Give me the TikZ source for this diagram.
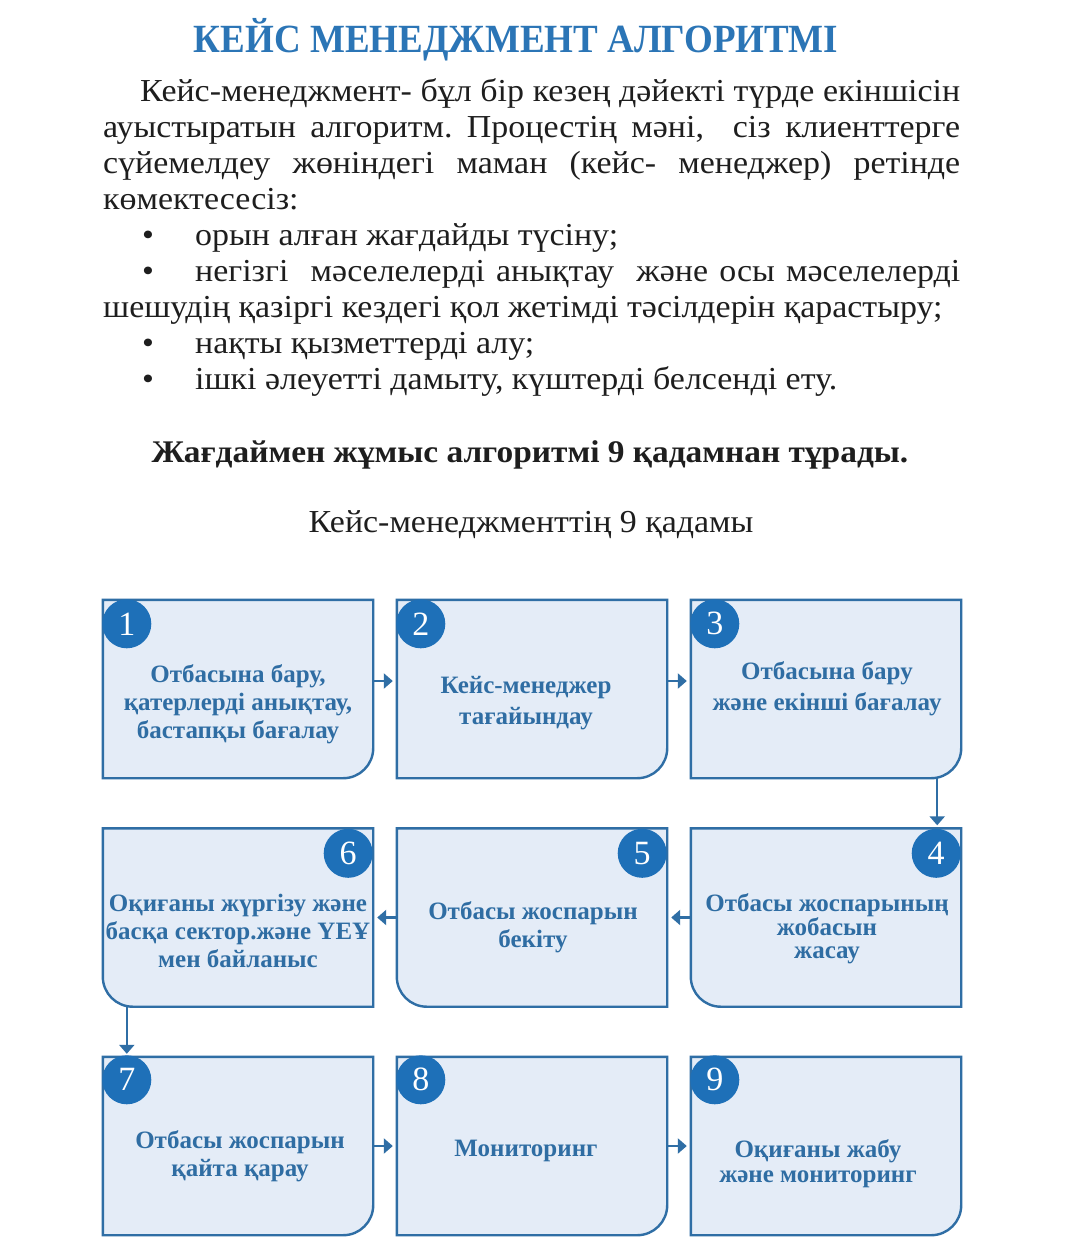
\documentclass[tikz,border=0pt]{standalone}
\usepackage{fontspec}
\setmainfont{Liberation Serif}
\newfontfamily\condfont[FakeStretch=0.925]{Liberation Serif}
\newfontfamily\widefont[FakeStretch=1.06]{Liberation Serif}
\usetikzlibrary{arrows.meta}
\definecolor{boxfill}{HTML}{E4ECF7}
\definecolor{boxline}{HTML}{2F6EA5}
\definecolor{numfill}{HTML}{1E70B8}
\definecolor{boxtext}{HTML}{2F6DA3}
\definecolor{titleblue}{HTML}{2B75B6}
\definecolor{bodytext}{HTML}{1E1E1E}
\frenchspacing
\newcommand\jline[2]{\hbox to #1{\spaceskip=.25em plus 1fil\relax #2}}
\newcommand\brbox[1]{\draw[shapeline] (#1.north west) -- (#1.north east) -- ([yshift=30pt]#1.south east) arc[start angle=0,end angle=-90,radius=30pt] -- (#1.south west) -- cycle;}
\newcommand\blbox[1]{\draw[shapeline] (#1.north west) -- (#1.north east) -- (#1.south east) -- ([xshift=30pt]#1.south west) arc[start angle=270,end angle=180,radius=30pt] -- cycle;}
\begin{document}
\begin{tikzpicture}[x=1pt,y=-1pt,
  box/.style={minimum width=270pt, minimum height=178pt, inner sep=0pt, draw=none},
  shapeline/.style={fill=boxfill, draw=boxline, line width=2.4pt},
  num/.style={circle, fill=numfill, minimum size=49pt, inner sep=0pt, text=white, font=\fontsize{34}{34}\selectfont},
  btext/.style={align=center, text=boxtext, inner sep=0pt, font=\bfseries\fontsize{25}{28}\selectfont},
  flow/.style={draw=boxline, line width=2.4pt, -{Triangle[length=9pt,width=15pt]}},
  body/.style={anchor=base west, inner sep=0pt, text=bodytext, font=\widefont\fontsize{32}{36}\selectfont},
  ctext/.style={anchor=base, inner sep=0pt, text=bodytext, font=\widefont\fontsize{32}{36}\selectfont}
]
\useasboundingbox (0,0) rectangle (1080,1259);
\fill[white] (0,0) rectangle (1080,1259);

\node[anchor=base, inner sep=0pt, text=titleblue, font=\condfont\bfseries\fontsize{40}{40}\selectfont] (title) at (516,52) {КЕЙС МЕНЕДЖМЕНТ АЛГОРИТМІ};

\node[body] (p1) at (140,101) {\jline{820pt}{Кейс-менеджмент- бұл бір кезең дәйекті түрде екіншісін}};
\node[body] (p2) at (103,137) {\jline{857pt}{ауыстыратын алгоритм. Процестің мәні,\ \ сіз клиенттерге}};
\node[body] (p3) at (103,173) {\jline{857pt}{сүйемелдеу жөніндегі маман (кейс- менеджер) ретінде}};
\node[body] (p4) at (103,209) {көмектесесіз:};
\node[body] (d1) at (142,245) {•};
\node[body] (p5) at (195,245) {орын алған жағдайды түсіну;};
\node[body] (d2) at (142,281) {•};
\node[body] (p6) at (195,281) {\jline{765pt}{негізгі\ \ мәселелерді анықтау\ \ және осы мәселелерді}};
\node[body] (p7) at (103,317) {шешудің қазіргі кездегі қол жетімді тәсілдерін қарастыру;};
\node[body] (d3) at (142,353) {•};
\node[body] (p8) at (195,353) {нақты қызметтерді алу;};
\node[body] (d4) at (142,389) {•};
\node[body] (p9) at (195,389) {ішкі әлеуетті дамыту, күштерді белсенді ету.};

\node[ctext, font=\widefont\bfseries\fontsize{31.5}{36}\selectfont] (bold) at (530,462) {Жағдаймен жұмыс алгоритмі 9 қадамнан тұрады.};
\node[ctext] (sub) at (531,532) {Кейс-менеджменттің 9 қадамы};

% boxes
\node[box] (b1) at (238,689) {};
\node[box] (b2) at (532,689) {};
\node[box] (b3) at (826,689) {};
\node[box] (b6) at (238,917.5) {};
\node[box] (b5) at (532,917.5) {};
\node[box] (b4) at (826,917.5) {};
\node[box] (b7) at (238,1146) {};
\node[box] (b8) at (532,1146) {};
\node[box] (b9) at (826,1146) {};
\brbox{b1}\brbox{b2}\brbox{b3}
\blbox{b4}\blbox{b5}\blbox{b6}
\brbox{b7}\brbox{b8}\brbox{b9}

% numbers
\node[num] (n1) at ([xshift=24pt,yshift=-24pt]b1.north west) {1};
\node[num] (n2) at ([xshift=24pt,yshift=-24pt]b2.north west) {2};
\node[num] (n3) at ([xshift=24pt,yshift=-24pt]b3.north west) {3};
\node[num] (n4) at ([xshift=-25pt,yshift=-25pt]b4.north east) {4};
\node[num] (n5) at ([xshift=-25pt,yshift=-25pt]b5.north east) {5};
\node[num] (n6) at ([xshift=-25pt,yshift=-25pt]b6.north east) {6};
\node[num] (n7) at ([xshift=24pt,yshift=-23pt]b7.north west) {7};
\node[num] (n8) at ([xshift=24pt,yshift=-23pt]b8.north west) {8};
\node[num] (n9) at ([xshift=24pt,yshift=-23pt]b9.north west) {9};

% texts
\node[btext] (t1) at (238,704) {Отбасына бару,\\қатерлерді анықтау,\\бастапқы бағалау};
\node[btext, font=\bfseries\fontsize{25}{31}\selectfont] (t2) at (526,703) {Кейс-менеджер\\тағайындау};
\node[btext, font=\bfseries\fontsize{25}{31}\selectfont] (t3) at (827,689) {Отбасына бару\\және екінші бағалау};
\node[btext, font=\bfseries\fontsize{25}{23}\selectfont] (t4) at (827,929) {Отбасы жоспарының\\жобасын\\жасау};
\node[btext] (t5) at (533,927) {Отбасы жоспарын\\бекіту};
\node[btext] (t6) at (238,931) {Оқиғаны жүргізу және\\басқа сектор.және ҮЕҰ\\мен байланыс};
\node[btext] (t7) at (240,1156) {Отбасы жоспарын\\қайта қарау};
\node[btext] (t8) at (526,1151) {Мониторинг};
\node[btext, font=\bfseries\fontsize{25}{25}\selectfont] (t9) at (818,1164) {Оқиғаны жабу\\және мониторинг};

% connectors
\draw[flow] ([yshift=8pt]b1.east) -- ([xshift=-4pt,yshift=8pt]b2.west);
\draw[flow] ([yshift=8pt]b2.east) -- ([xshift=-4pt,yshift=8pt]b3.west);
\draw[flow] ([xshift=-24pt]b3.south east) -- ([xshift=-24pt,yshift=3pt]b4.north east);
\draw[flow] (b4.west) -- ([xshift=4pt]b5.east);
\draw[flow] (b5.west) -- ([xshift=4pt]b6.east);
\draw[flow] ([xshift=24pt]b6.south west) -- ([xshift=24pt,yshift=3pt]b7.north west);
\draw[flow] (b7.east) -- ([xshift=-4pt]b8.west);
\draw[flow] (b8.east) -- ([xshift=-4pt]b9.west);
\end{tikzpicture}
\end{document}
